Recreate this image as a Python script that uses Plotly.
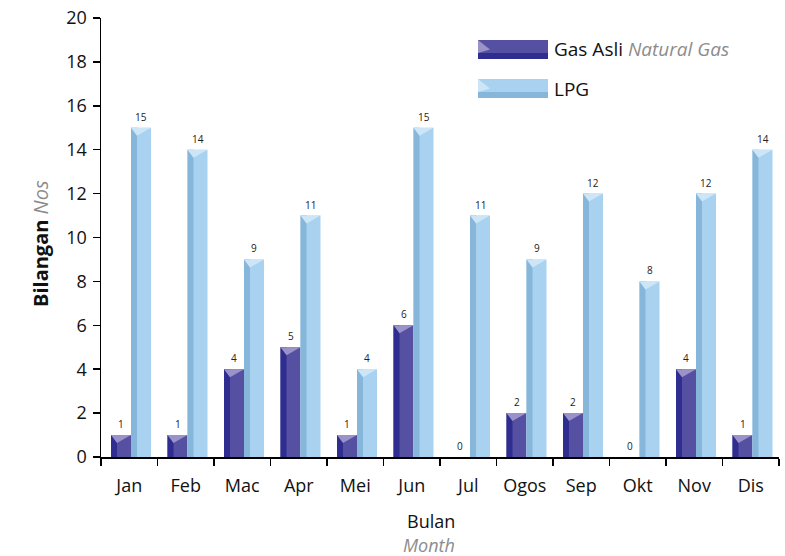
import plotly.graph_objects as go

months = ["Jan", "Feb", "Mac", "Apr", "Mei", "Jun", "Jul", "Ogos", "Sep", "Okt", "Nov", "Dis"]
gas_asli = [1, 1, 4, 5, 1, 6, 0, 2, 2, 0, 4, 1]
lpg = [15, 14, 9, 11, 4, 15, 11, 9, 12, 8, 12, 14]
y_ticks = list(range(0, 21, 2))

FONT = "Open Sans"
W, H = 785, 556
ML, MR, MT, MB = 101, 6, 18, 99
PW, PH = W - ML - MR, H - MT - MB

BAR_W = 0.354
STRIP_W = 0.106
GAS_OFF = -0.323
LPG_OFF = GAS_OFF + BAR_W
CAP_PX = 8
cap_d = CAP_PX * 20 / PH

gas_cols = dict(main="#5550a2", strip="#2f2d8f", cap="#9a92c8")
lpg_cols = dict(main="#a9d2f0", strip="#86b6da", cap="#cce6f8")

fig = go.Figure()
annotations = []

def add_series(vals, off, cols, name):
    fig.add_trace(go.Bar(x=months, y=vals, width=BAR_W, offset=off, name=name,
                         marker=dict(color=cols["main"], line=dict(width=0), opacity=1),
                         showlegend=False, hoverinfo="skip"))
    fig.add_trace(go.Bar(x=months, y=vals, width=STRIP_W, offset=off,
                         marker=dict(color=cols["strip"], line=dict(width=0), opacity=1),
                         showlegend=False, hoverinfo="skip"))
    # top bevel caps
    xs, ys = [], []
    for i, v in enumerate(vals):
        if v <= 0:
            continue
        x0 = i + off
        x1 = x0 + BAR_W
        xa = x0 + STRIP_W
        d = min(cap_d, v)
        xs += [x0, x1, xa, x0, None]
        ys += [v, v, v - d, v, None]
    fig.add_trace(go.Scatter(x=xs, y=ys, xaxis="x2", yaxis="y", mode="lines",
                             fill="toself", fillcolor=cols["cap"], line=dict(width=0),
                             showlegend=False, hoverinfo="skip"))
    # value labels
    for i, v in enumerate(vals):
        annotations.append(dict(xref="x2", yref="y", x=i + off + BAR_W / 2, y=v,
                                text=str(v), showarrow=False, xanchor="center", yanchor="middle",
                                yshift=11, font=dict(family=FONT, size=10, color="#222222")))

add_series(gas_asli, GAS_OFF, gas_cols, "Gas Asli")
add_series(lpg, LPG_OFF, lpg_cols, "LPG")

def px2paper(px, py):
    # page pixel coordinates -> paper coordinates
    return (px - ML) / PW, (H - MB - py) / PH

shapes = []

def legend_item(top_py, cols, text):
    x0, y0 = px2paper(478, top_py + 19)
    x1, y1 = px2paper(548, top_py)
    xm, ym = px2paper(548, top_py + 13)
    shapes.append(dict(type="rect", xref="paper", yref="paper", x0=x0, x1=x1, y0=y0, y1=y1,
                       fillcolor=cols["main"], line=dict(width=0), layer="above"))
    shapes.append(dict(type="rect", xref="paper", yref="paper", x0=x0, x1=x1, y0=y0, y1=ym,
                       fillcolor=cols["strip"], line=dict(width=0), layer="above"))
    ax, ay = px2paper(490, top_py + 9.5)
    shapes.append(dict(type="path", xref="paper", yref="paper",
                       path=f"M {x0} {y1} L {ax} {ay} L {x0} {ym} Z",
                       fillcolor=cols["cap"], line=dict(width=0), layer="above"))
    tx, ty = px2paper(552, top_py + 9.5)
    annotations.append(dict(xref="paper", yref="paper", x=tx, y=ty, xanchor="left", yanchor="middle",
                            text=text, showarrow=False, font=dict(family=FONT, size=19, color="#111111")))

legend_item(40, gas_cols, "Gas Asli <i><span style='color:#8c8c8c'>Natural Gas</span></i>")
legend_item(79, lpg_cols, "LPG")

bx, by = px2paper(431, 521)
annotations.append(dict(xref="paper", yref="paper", x=bx, y=by, xanchor="center", yanchor="middle",
                        text="Bulan", showarrow=False, font=dict(family=FONT, size=18, color="#111111")))
mx, my = px2paper(429, 545)
annotations.append(dict(xref="paper", yref="paper", x=mx, y=my, xanchor="center", yanchor="middle",
                        text="<i>Month</i>", showarrow=False, font=dict(family=FONT, size=18, color="#8c8c8c")))
yx, yy = px2paper(40, 243)
annotations.append(dict(xref="paper", yref="paper", x=yx, y=yy, xanchor="center", yanchor="middle",
                        textangle=-90, showarrow=False,
                        text="<b>Bilangan</b> <i><span style='color:#8c8c8c'>Nos</span></i>",
                        font=dict(family=FONT, size=20, color="#111111")))

fig.update_layout(
    width=W, height=H,
    margin=dict(l=ML, r=MR, t=MT, b=MB, pad=0, autoexpand=False),
    paper_bgcolor="white", plot_bgcolor="white",
    barmode="overlay",
    showlegend=False,
    hovermode=False,
    font=dict(family=FONT, size=18, color="#111111"),
    xaxis=dict(type="category", categoryorder="array", categoryarray=months,
               range=[-0.5, 11.5], tickson="boundaries", ticks="outside", ticklen=7,
               tickwidth=1.5, tickcolor="black", showline=True, linecolor="black", linewidth=1.5,
               showgrid=False, zeroline=False, tickfont=dict(family=FONT, size=18, color="#111111"),
               ticklabelstandoff=12, automargin=False, fixedrange=True),
    xaxis2=dict(overlaying="x", range=[-0.5, 11.5], visible=False, fixedrange=True),
    yaxis=dict(range=[0, 20], tickvals=y_ticks, ticks="outside", ticklen=7, tickwidth=1.5,
               tickcolor="black", showline=True, linecolor="black", linewidth=1.5,
               showgrid=False, zeroline=False, tickfont=dict(family=FONT, size=18, color="#111111"),
               ticklabeloverflow="allow", ticklabelstandoff=2, automargin=False, fixedrange=True),
    shapes=shapes,
    annotations=annotations,
)

fig.write_html("out.html",
               config=dict(displayModeBar=False, staticPlot=True),
               post_script="document.body.style.margin='0';document.body.style.overflow='hidden';")
